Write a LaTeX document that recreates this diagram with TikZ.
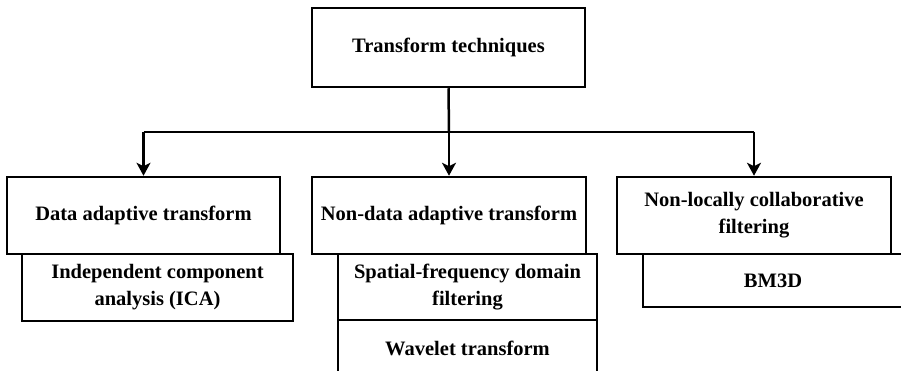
\documentclass[tikz,border=0pt]{standalone}
\usepackage{fontspec}
\setmainfont{Liberation Serif}[BoldFont={Liberation Serif Bold}]
\newfontfamily\boxfont{Liberation Serif Bold}
\usetikzlibrary{arrows.meta}
\begin{document}
\begin{tikzpicture}[x=1pt,y=-1pt,
  box/.style={draw=black,line width=2.5pt,rectangle,inner sep=0pt,align=center,
    font=\boxfont\fontsize{20.5}{27}\selectfont},
  conn/.style={line width=2.5pt,draw=black},
  arr/.style={conn,-{Stealth[length=13pt,width=14pt,inset=3.5pt]}}]
\useasboundingbox (0,0) rectangle (901,371);
\fill[white] (0,0) rectangle (901,371);
\node[box,minimum width=273pt,minimum height=79pt] (top) at (448.5,47.5) {Transform techniques};
% left
\node[box,minimum width=271pt,minimum height=67pt] (ica) at (157.5,287.5) {Independent component\\analysis (ICA)};
\node[box,fill=white,minimum width=273pt,minimum height=77pt] (dat) at (143.5,215.5) {Data adaptive transform};
% middle
\node[box,minimum width=259pt,minimum height=66pt] (sfd) at (467.5,287) {Spatial-frequency domain\\filtering};
\node[box,minimum width=259pt,minimum height=56pt] (wav) at (467.5,348) {Wavelet transform};
\node[box,fill=white,minimum width=274pt,minimum height=77pt] (ndat) at (449,215.5) {Non-data adaptive transform};
% right
\node[box,minimum width=260pt,minimum height=53pt] (bm) at (773,280.5) {BM3D};
\node[box,fill=white,minimum width=274pt,minimum height=77pt] (nlc) at (754,215.5) {Non-locally collaborative\\filtering};
% connectors
\coordinate (j) at (449,132);
\coordinate (jl) at (dat.north |- j);
\coordinate (jr) at (nlc.north |- j);
\draw[conn] (top.south) -- (j);
\draw[conn] (jl) -- (jr);
\draw[arr] (jl) -- (dat.north);
\draw[arr] (j) -- (ndat.north);
\draw[arr] (jr) -- (nlc.north);
\end{tikzpicture}
\end{document}
